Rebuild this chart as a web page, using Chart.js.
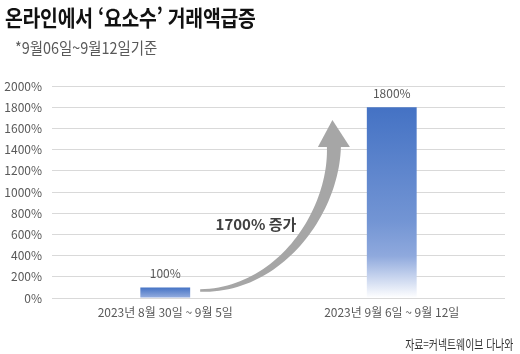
<!DOCTYPE html>
<html lang="ko">
<head>
<meta charset="utf-8">
<script src="https://cdn.jsdelivr.net/npm/chart.js@4.4.1/dist/chart.umd.min.js"></script>
<style>
    html, body { margin: 0; padding: 0; background: #fff; }
    #wrap { position: relative; width: 520px; height: 354px; overflow: hidden; }
    .txt { position: absolute; white-space: nowrap; line-height: 1; font-family: "Noto Sans CJK KR", sans-serif; }
    #title { left: 5px; top: 5px; font-size: 22px; font-weight: bold; color: #111; transform: scaleX(0.88); transform-origin: left top; letter-spacing: -0.3px; }
    #sub { left: 15px; top: 39px; font-size: 16px; color: #595959; transform: scaleX(0.9); transform-origin: left top; }
    #source { right: 7px; top: 337px; font-size: 13px; color: #333; transform: scaleX(0.76); transform-origin: right top; }
</style>
</head>
<body>
<div id="wrap">
    <canvas id="chart" width="520" height="354"></canvas>
    <div class="txt" id="title">온라인에서 ‘요소수’ 거래액급증</div>
    <div class="txt" id="sub">*9월06일~9월12일기준</div>
    <div class="txt" id="source">자료=커넥트웨이브 다나와</div>
</div>
<script>
// data
const categories = ["2023년 8월 30일 ~ 9월 5일", "2023년 9월 6일 ~ 9월 12일"];
const values = [100, 1800];
const valueLabels = ["100%", "1800%"];
const arrowText = "1700% 증가";
const arrowFrom = 70;     // arrow tail level (%)
const arrowTo = 1680;     // arrow tip level (%)

Chart.defaults.font.family = "'Noto Sans CJK KR', sans-serif";

// bar fill: blue at top, lighter toward the base (second bar fades to white)
function barFill(c) {
    const chart = c.chart;
    if (!chart.chartArea) return "#4472c4";
    const y = chart.scales.y;
    const top = y.getPixelForValue(values[c.dataIndex]);
    const bottom = y.getPixelForValue(0);
    const g = chart.ctx.createLinearGradient(0, top, 0, bottom);
    g.addColorStop(0, "#4472c4");
    if (c.dataIndex === 1) {
        g.addColorStop(0.6, "#7395d4");
        g.addColorStop(0.78, "#8fa9dd");
        g.addColorStop(1, "#ffffff");
    } else {
        g.addColorStop(1, "#97afe0");
    }
    return g;
}

const extras = {
    id: "extras",
    afterDatasetsDraw(chart) {
        const { ctx, scales: { x, y } } = chart;
        const meta = chart.getDatasetMeta(0);

        // value labels over bars
        ctx.save();
        ctx.font = "12px 'Noto Sans CJK KR'";
        ctx.fillStyle = "#595959";
        ctx.textAlign = "center";
        ctx.textBaseline = "middle";
        meta.data.forEach((bar, i) => {
            ctx.fillText(valueLabels[i], bar.x, bar.y - 14);
        });
        ctx.restore();

        // curved arrow
        const xa = x.getPixelForValue(0), xb = x.getPixelForValue(1);
        const bar0 = meta.data[0];
        const tail = { x: bar0.x + bar0.width / 2 + 10, y: y.getPixelForValue(arrowFrom) };
        const tip = { x: xa + (xb - xa) * 0.738, y: y.getPixelForValue(arrowTo) };
        const headLen = 27, headHalf = 16;
        const base = { x: tip.x + 1.5, y: tip.y + headLen };
        const p0 = tail;
        const p1 = { x: tail.x + (base.x - tail.x) * 0.6, y: tail.y };
        const p2 = { x: base.x, y: tail.y - (tail.y - base.y) * 0.55 };
        const p3 = base;

        const left = [], right = [];
        const n = 50;
        for (let i = 0; i <= n; i++) {
            const t = i / n, u = 1 - t;
            const px = u*u*u*p0.x + 3*u*u*t*p1.x + 3*u*t*t*p2.x + t*t*t*p3.x;
            const py = u*u*u*p0.y + 3*u*u*t*p1.y + 3*u*t*t*p2.y + t*t*t*p3.y;
            const dx = 3*u*u*(p1.x-p0.x) + 6*u*t*(p2.x-p1.x) + 3*t*t*(p3.x-p2.x);
            const dy = 3*u*u*(p1.y-p0.y) + 6*u*t*(p2.y-p1.y) + 3*t*t*(p3.y-p2.y);
            const len = Math.hypot(dx, dy) || 1;
            const nx = -dy / len, ny = dx / len;
            const w = (2.5 + 11.5 * t) / 2;
            left.push([px + nx * w, py + ny * w]);
            right.push([px - nx * w, py - ny * w]);
        }
        ctx.save();
        ctx.fillStyle = "#a6a6a6";
        ctx.beginPath();
        left.forEach((p, i) => i ? ctx.lineTo(p[0], p[1]) : ctx.moveTo(p[0], p[1]));
        right.reverse().forEach(p => ctx.lineTo(p[0], p[1]));
        ctx.closePath();
        ctx.fill();
        ctx.beginPath();
        ctx.moveTo(tip.x, tip.y);
        ctx.lineTo(base.x + headHalf, base.y);
        ctx.lineTo(base.x - headHalf, base.y);
        ctx.closePath();
        ctx.fill();

        // arrow caption
        ctx.font = "bold 15px 'Noto Sans CJK KR'";
        ctx.fillStyle = "#404040";
        ctx.textAlign = "right";
        ctx.textBaseline = "middle";
        ctx.fillText(arrowText, tip.x - 36, y.getPixelForValue(700));
        ctx.restore();
    }
};

new Chart(document.getElementById("chart"), {
    type: "bar",
    data: {
        labels: categories,
        datasets: [{
            data: values,
            backgroundColor: barFill,
            borderWidth: 0,
            barPercentage: 0.22,
            categoryPercentage: 1
        }]
    },
    options: {
        responsive: false,
        animation: false,
        layout: { padding: { top: 86, right: 15, bottom: 26, left: 0 } },
        plugins: {
            legend: { display: false },
            tooltip: { enabled: false }
        },
        scales: {
            x: {
                grid: { display: false, drawTicks: false },
                border: { display: false },
                ticks: { color: "#595959", font: { size: 12 }, padding: 7 },
                afterFit(s) { s.height = 30; }
            },
            y: {
                min: 0,
                max: 2000,
                ticks: {
                    stepSize: 200,
                    color: "#595959",
                    font: { size: 12 },
                    padding: 10,
                    callback: v => v + "%"
                },
                grid: { color: "#d9d9d9", drawTicks: false },
                border: { display: false },
                afterFit(s) { s.width = 52; }
            }
        }
    },
    plugins: [extras]
});
</script>
</body>
</html>
